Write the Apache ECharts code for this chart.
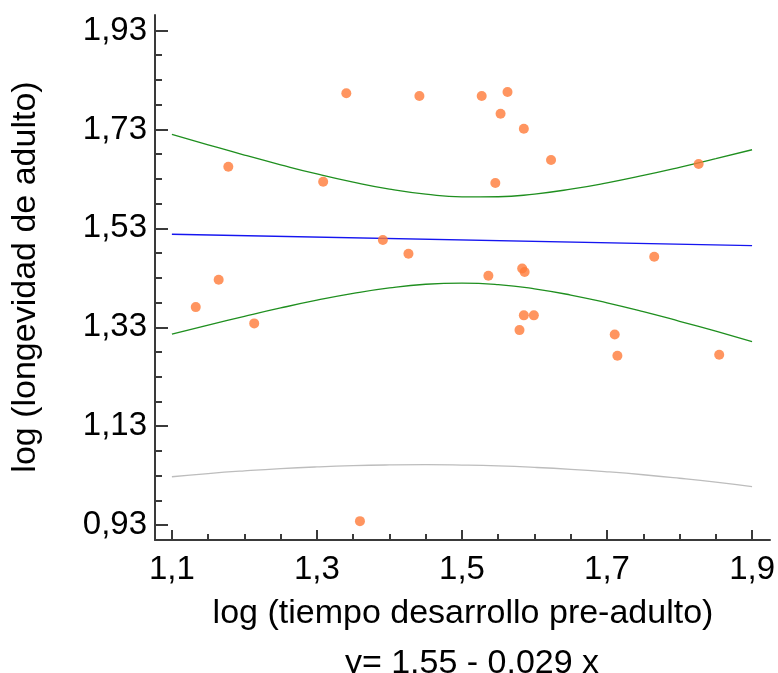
<!DOCTYPE html>
<html>
<head>
<meta charset="utf-8">
<script src="https://cdn.jsdelivr.net/npm/echarts@6/dist/echarts.min.js"></script>
<style>
  html, body { margin: 0; padding: 0; background: #ffffff; }
  #chart { width: 778px; height: 673px; }
</style>
</head>
<body>
<div id="chart"></div>
<script>
// log of pre-adult development time (x) and adult longevity (y), one pair per case
const devTime = [1.1329, 1.1645, 1.1778, 1.2135, 1.3086, 1.3405, 1.3909, 1.4262, 1.4413,
  1.5272, 1.5364, 1.5460, 1.5532, 1.5628, 1.5830, 1.5864, 1.5853, 1.5793, 1.5853, 1.5991,
  1.6228, 1.7106, 1.7143, 1.7651, 1.8263, 1.8547, 1.3593];
const longevity = [1.3708, 1.4260, 1.6546, 1.3379, 1.6242, 1.8030, 1.5063, 1.4786, 1.7975,
  1.7975, 1.4341, 1.6216, 1.7617, 1.8056, 1.4487, 1.4416, 1.7314, 1.3243, 1.3541, 1.3541,
  1.6681, 1.3156, 1.2724, 1.4726, 1.6600, 1.2744, 0.9381];

// fitted line y = 1.55 - 0.029 x at the ends of the x range
const fitX = [1.1, 1.9];
const fitY = [1.5181, 1.4949];

// band curves sampled every 0.05 along x
const bandX = [1.10, 1.15, 1.20, 1.25, 1.30, 1.35, 1.40, 1.45, 1.50, 1.55, 1.60, 1.65, 1.70, 1.75, 1.80, 1.85, 1.90];
const upperMean = [1.7201, 1.6989, 1.6782, 1.6585, 1.6399, 1.6233, 1.6092, 1.5990, 1.5936, 1.5939, 1.5994, 1.6092, 1.6220, 1.6370, 1.6534, 1.6708, 1.6889];
const lowerMean = [1.3161, 1.3345, 1.3522, 1.3691, 1.3847, 1.3985, 1.4096, 1.4170, 1.4194, 1.4163, 1.4078, 1.3952, 1.3794, 1.3616, 1.3422, 1.3220, 1.3009];
const lowerPred = [1.0279, 1.0343, 1.0397, 1.0443, 1.0478, 1.0503, 1.0517, 1.0522, 1.0514, 1.0497, 1.0468, 1.0429, 1.0379, 1.0319, 1.0248, 1.0169, 1.0079];

// axis ticks
const xMajorTicks = [1.1, 1.3, 1.5, 1.7, 1.9];
const xMinorTicks = [1.15, 1.2, 1.25, 1.35, 1.4, 1.45, 1.55, 1.6, 1.65, 1.75, 1.8, 1.85];
const yMajorTicks = [0.93, 1.13, 1.33, 1.53, 1.73, 1.93];
const yMinorTicks = [0.98, 1.03, 1.08, 1.18, 1.23, 1.28, 1.38, 1.43, 1.48, 1.58, 1.63, 1.68, 1.78, 1.83, 1.88];

const xTitle = 'log (tiempo desarrollo pre-adulto)';
const yTitle = 'log (longevidad de adulto)';
const equation = 'y= 1.55 - 0.029 x';

const FONT = '"Liberation Sans", Arial, sans-serif';
const X_MIN = 1.0767, X_MAX = 1.9247;
const Y_MIN = 0.90, Y_MAX = 1.9613;
const AXIS_COLOR = '#3a3a3a';

const zip = (xs, ys) => xs.map((x, i) => [x, ys[i]]);
const comma = (v) => String(v).replace('.', ',');

const chart = echarts.init(document.getElementById('chart'), null, { renderer: 'canvas' });

const baseX = { type: 'value', min: X_MIN, max: X_MAX, position: 'bottom', splitLine: { show: false } };
const baseY = { type: 'value', min: Y_MIN, max: Y_MAX, position: 'left', splitLine: { show: false } };

chart.setOption({
  animation: false,
  backgroundColor: '#ffffff',
  grid: { left: 155, top: 15, right: 5, bottom: 133, containLabel: false },
  xAxis: [
    Object.assign({}, baseX, {
      axisLine: { show: true, lineStyle: { color: AXIS_COLOR, width: 2 } },
      axisTick: { show: true, inside: true, length: 10, customValues: xMajorTicks, lineStyle: { color: AXIS_COLOR, width: 2 } },
      axisLabel: { show: true, customValues: xMajorTicks, formatter: comma, margin: 13,
        color: '#000', fontSize: 33, fontFamily: FONT }
    }),
    Object.assign({}, baseX, {
      axisLine: { show: false },
      axisTick: { show: true, inside: true, length: 6, customValues: xMinorTicks, lineStyle: { color: AXIS_COLOR, width: 2 } },
      axisLabel: { show: false }
    })
  ],
  yAxis: [
    Object.assign({}, baseY, {
      axisLine: { show: true, lineStyle: { color: AXIS_COLOR, width: 2 } },
      axisTick: { show: true, inside: true, length: 13, customValues: yMajorTicks, lineStyle: { color: AXIS_COLOR, width: 2 } },
      axisLabel: { show: true, customValues: yMajorTicks, formatter: comma, margin: 8,
        color: '#000', fontSize: 33, fontFamily: FONT }
    }),
    Object.assign({}, baseY, {
      axisLine: { show: false },
      axisTick: { show: true, inside: true, length: 7, customValues: yMinorTicks, lineStyle: { color: AXIS_COLOR, width: 2 } },
      axisLabel: { show: false }
    })
  ],
  graphic: [
    { type: 'text', x: 463, y: 614, silent: true,
      style: { text: xTitle, fill: '#000', font: '34px ' + FONT, align: 'center', verticalAlign: 'middle' } },
    { type: 'text', x: 472, y: 664, silent: true,
      style: { text: equation, fill: '#000', font: '34px ' + FONT, align: 'center', verticalAlign: 'middle' } },
    { type: 'text', x: 26, y: 277, rotation: Math.PI / 2, silent: true,
      style: { text: yTitle, fill: '#000', font: '34px ' + FONT, align: 'center', verticalAlign: 'middle' } }
  ],
  series: [
    { type: 'line', name: 'pred', data: zip(bandX, lowerPred), showSymbol: false, smooth: true,
      lineStyle: { color: '#bdbdbd', width: 1.3 }, clip: true, z: 2 },
    { type: 'line', name: 'upper', data: zip(bandX, upperMean), showSymbol: false, smooth: true,
      lineStyle: { color: '#1f8f1f', width: 1.3 }, clip: true, z: 2 },
    { type: 'line', name: 'lower', data: zip(bandX, lowerMean), showSymbol: false, smooth: true,
      lineStyle: { color: '#1f8f1f', width: 1.3 }, clip: true, z: 2 },
    { type: 'line', name: 'fit', data: zip(fitX, fitY), showSymbol: false,
      lineStyle: { color: '#1515f0', width: 1.3 }, clip: true, z: 2 },
    { type: 'scatter', name: 'obs', data: zip(devTime, longevity), symbol: 'circle', symbolSize: 10,
      itemStyle: { color: '#ff7a38' }, clip: false, z: 3 }
  ]
});
</script>
</body>
</html>
